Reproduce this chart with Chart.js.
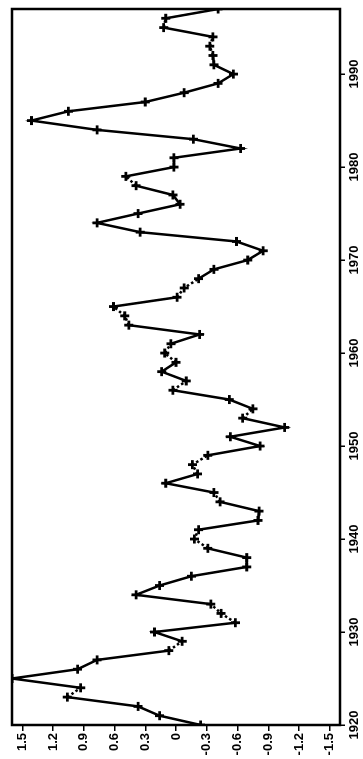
<!DOCTYPE html>
<html>
<head>
<meta charset="utf-8">
<script src="https://cdn.jsdelivr.net/npm/chart.js@4.4.0/dist/chart.umd.min.js"></script>
<style>
  html, body { margin: 0; padding: 0; background: #fff; overflow: hidden; }
  /* chart is drawn upright, then turned a quarter left like the scan */
  #wrap { position: absolute; left: 0; top: 0; width: 759px; height: 363px;
          transform-origin: 0 0; transform: rotate(-90deg) translateX(-759px); }
</style>
</head>
<body>
<div id="wrap"><canvas id="chart" width="759" height="363"></canvas></div>
<script>
// yearly series
const years = [1920, 1921, 1922, 1923, 1924, 1925, 1926, 1927, 1928, 1929,
               1930, 1931, 1932, 1933, 1934, 1935, 1936, 1937, 1938, 1939,
               1940, 1941, 1942, 1943, 1944, 1945, 1946, 1947, 1948, 1949,
               1950, 1951, 1952, 1953, 1954, 1955, 1956, 1957, 1958, 1959,
               1960, 1961, 1962, 1963, 1964, 1965, 1966, 1967, 1968, 1969,
               1970, 1971, 1972, 1973, 1974, 1975, 1976, 1977, 1978, 1979,
               1980, 1981, 1982, 1983, 1984, 1985, 1986, 1987, 1988, 1989,
               1990, 1991, 1992, 1993, 1994, 1995, 1996, 1997];
const values = [-0.24, 0.16, 0.37, 1.06, 0.93, 1.60, 0.96, 0.77, 0.07, -0.06,
                0.21, -0.58, -0.44, -0.34, 0.39, 0.16, -0.15, -0.69, -0.69, -0.31,
                -0.18, -0.22, -0.80, -0.81, -0.43, -0.37, 0.10, -0.21, -0.16, -0.31,
                -0.82, -0.53, -1.06, -0.65, -0.75, -0.52, 0.03, -0.10, 0.14, 0.00,
                0.11, 0.05, -0.23, 0.46, 0.50, 0.61, -0.01, -0.08, -0.22, -0.37,
                -0.70, -0.85, -0.59, 0.35, 0.77, 0.37, -0.04, 0.03, 0.39, 0.49,
                0.02, 0.02, -0.63, -0.17, 0.77, 1.41, 1.05, 0.30, -0.08, -0.41,
                -0.56, -0.37, -0.36, -0.33, -0.36, 0.12, 0.10, -0.41];

// segments that look dotted in the scan (by starting year)
const dashedFrom = [1923, 1928, 1931, 1932, 1939, 1940, 1944, 1947, 1948, 1953,
                    1956, 1959, 1960, 1963, 1964, 1966, 1967, 1978, 1992, 1993, 1995];

const yearTicks = [1920, 1930, 1940, 1950, 1960, 1970, 1980, 1990];
const valueTicks = [1.5, 1.2, 0.9, 0.6, 0.3, 0, -0.3, -0.6, -0.9, -1.2, -1.5];

Chart.defaults.font.family = '"Liberation Sans", Arial, sans-serif';
Chart.defaults.font.size = 13;
Chart.defaults.font.weight = 'bold';
Chart.defaults.color = '#000';

// box round the plot area
const frame = {
  id: 'frame',
  beforeDatasetsDraw(chart) {
    const { ctx, chartArea: a } = chart;
    ctx.save();
    ctx.strokeStyle = '#000';
    ctx.lineWidth = 2.5;
    ctx.strokeRect(a.left, a.top, a.right - a.left, a.bottom - a.top);
    ctx.restore();
  }
};

new Chart(document.getElementById('chart'), {
  type: 'line',
  data: {
    datasets: [{
      data: years.map((yr, i) => ({ x: yr, y: values[i] })),
      borderColor: '#000',
      borderWidth: 2.5,
      tension: 0,
      pointStyle: 'cross',
      pointRadius: 4.5,
      pointBorderWidth: 2.8,
      pointBorderColor: '#000',
      segment: {
        borderDash: ctx => dashedFrom.includes(years[ctx.p0DataIndex]) ? [2.5, 2.5] : undefined
      }
    }]
  },
  options: {
    responsive: false,
    animation: false,
    layout: { padding: { top: 12, right: 9, left: 0, bottom: 0 } },
    plugins: { legend: { display: false }, tooltip: { enabled: false } },
    scales: {
      x: {
        type: 'linear',
        min: 1920,
        max: 1997,
        afterBuildTicks: s => { s.ticks = yearTicks.map(v => ({ value: v })); },
        afterFit: s => { s.height = 23; },
        border: { display: false },
        grid: { drawOnChartArea: false, drawTicks: true, tickLength: 5, color: '#000', lineWidth: 1.5 },
        ticks: { padding: 2, maxRotation: 0, autoSkip: false, callback: v => String(v) }
      },
      y: {
        type: 'linear',
        min: -1.6,
        max: 1.6,
        afterBuildTicks: s => { s.ticks = valueTicks.map(v => ({ value: v })); },
        afterFit: s => { s.width = 34; },
        border: { display: false },
        grid: { drawOnChartArea: false, drawTicks: true, tickLength: 6, color: '#000', lineWidth: 1.5 },
        ticks: { padding: 2, autoSkip: false, callback: v => String(v) }
      }
    }
  },
  plugins: [frame]
});
</script>
</body>
</html>
